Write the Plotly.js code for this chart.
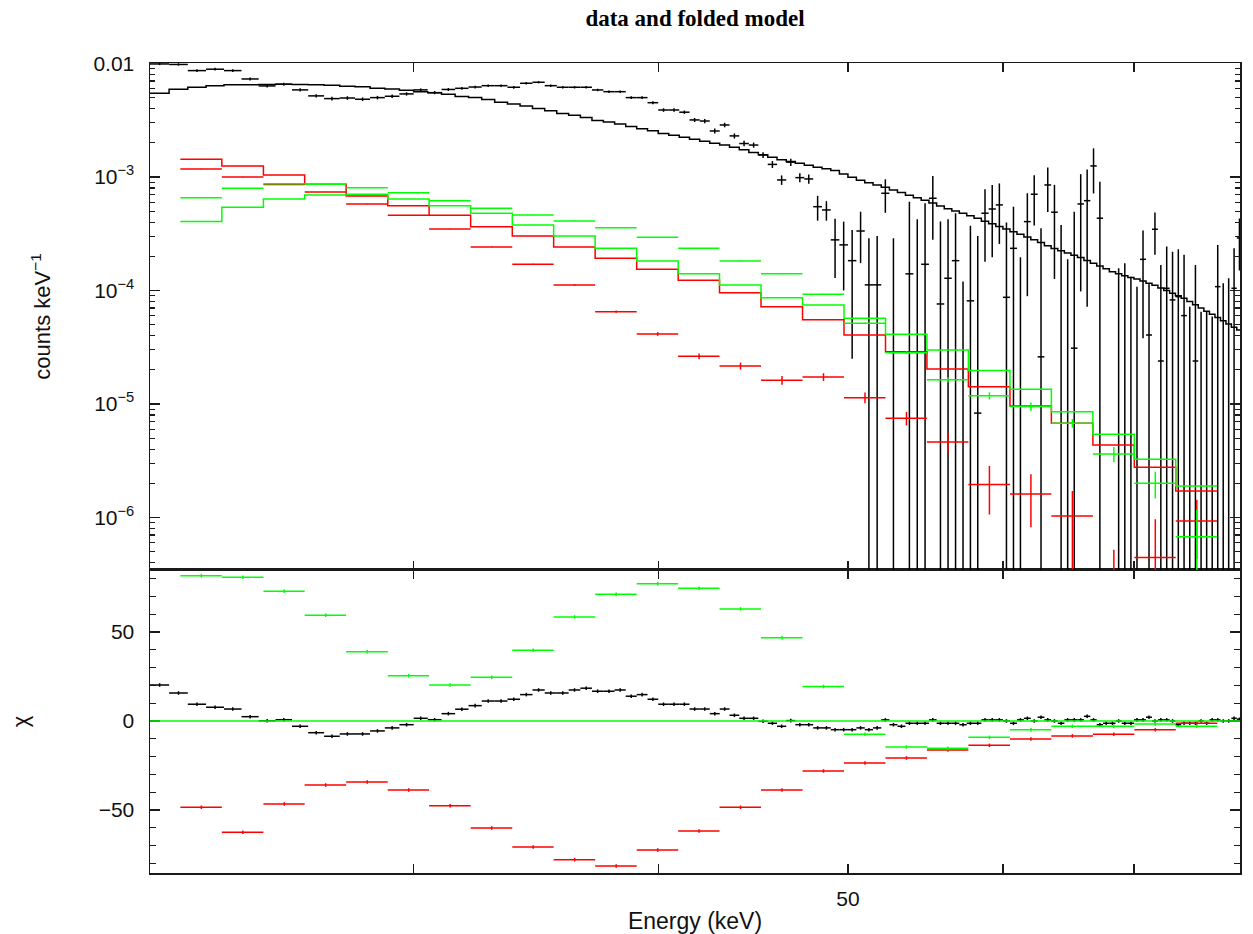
<!DOCTYPE html>
<html>
<head>
<meta charset="utf-8">
<script src="https://cdn.plot.ly/plotly-3.0.1.min.js"></script>
<style>html,body{margin:0;padding:0;background:#fff;}#chart{width:1253px;height:934px;}</style>
</head>
<body>
<div id="chart"></div>
<script>
// ---------- DATA ----------
// Black spectrum: 0.5 keV bins (centres, keV)
const blackE = [
22.25,22.75,23.25,23.75,24.25,24.75,25.25,25.75,26.25,26.75,27.25,27.75,
28.25,28.75,29.25,29.75,30.25,30.75,31.25,31.75,32.25,32.75,33.25,33.75,
34.25,34.75,35.25,35.75,36.25,36.75,37.25,37.75,38.25,38.75,39.25,39.75,
40.25,40.75,41.25,41.75,42.25,42.75,43.25,43.75,44.25,44.75,45.25,45.75,
46.25,46.75,47.25,47.75,48.25,48.75,49.25,49.75,50.25,50.75,51.25,51.75,
52.25,52.75,53.25,53.75,54.25,54.75,55.25,55.75,56.25,56.75,57.25,57.75,
58.25,58.75,59.25,59.75,60.25,60.75,61.25,61.75,62.25,62.75,63.25,63.75,
64.25,64.75,65.25,65.75,66.25,66.75,67.25,67.75,68.25,68.75,69.25,69.75,
70.25,70.75,71.25,71.75,72.25,72.75,73.25,73.75,74.25,74.75,75.25,75.75,
76.25,76.75,77.25,77.75,78.25,78.75,79.25];
const blackHalfWidth = 0.25;
const blackData = [
9.9e-3,9.8e-3,8.65e-3,8.9e-3,8.65e-3,7.3e-3,6.34e-3,6.56e-3,5.85e-3,5.18e-3,4.9e-3,4.96e-3,
4.84e-3,5.0e-3,5.14e-3,5.39e-3,5.85e-3,5.53e-3,5.9e-3,6.04e-3,6.2e-3,6.37e-3,6.37e-3,6.17e-3,
6.69e-3,6.83e-3,6.37e-3,6.17e-3,6.17e-3,6.17e-3,5.84e-3,5.64e-3,5.64e-3,5.0e-3,5.0e-3,4.51e-3,
3.89e-3,3.89e-3,3.72e-3,3.18e-3,3.11e-3,2.54e-3,2.87e-3,2.30e-3,1.97e-3,1.91e-3,1.56e-3,1.29e-3,
9.41e-4,1.35e-3,9.86e-4,9.6e-4,5.47e-4,5.12e-4,2.79e-4,2.52e-4,1.83e-4,3.34e-4,1.12e-4,1.12e-4,
7.18e-4,-0.6e-4,-4.0e-4,1.40e-4,-0.8e-4,1.70e-4,6.49e-4,7.6e-5,1.28e-4,1.83e-4,-1.5e-4,8.1e-5,
8.3e-6,4.79e-4,5.22e-4,5.67e-4,8.7e-5,2.35e-4,-1.2e-4,4.04e-4,7.04e-4,2.6e-5,8.5e-4,4.89e-4,
-0.4e-4,-1.8e-4,3.1e-5,5.78e-4,6.18e-4,1.25e-3,4.33e-4,-2e-4,-2e-4,-1e-5,-1e-5,-2e-5,
-3e-5,1.88e-4,4.05e-5,3.46e-4,2.39e-5,1.045e-4,8.25e-5,8.82e-5,6e-5,-7e-5,2.39e-5,-8e-5,
-8e-5,-8.5e-5,1.08e-4,-3e-5,-2e-5,1.045e-4,2.9e-4];
const blackErr = [
2.3e-4,2.4e-4,2.5e-4,2.5e-4,2.4e-4,2.2e-4,2.0e-4,2.0e-4,1.9e-4,1.8e-4,1.8e-4,1.8e-4,
1.8e-4,1.8e-4,1.8e-4,1.8e-4,1.8e-4,1.8e-4,1.8e-4,1.7e-4,1.7e-4,1.7e-4,1.7e-4,1.7e-4,
1.7e-4,1.6e-4,1.6e-4,1.6e-4,1.5e-4,1.5e-4,1.5e-4,1.5e-4,1.5e-4,1.4e-4,1.4e-4,1.4e-4,
1.4e-4,1.4e-4,1.3e-4,1.3e-4,1.3e-4,1.3e-4,1.3e-4,1.2e-4,1.1e-4,1.0e-4,0.9e-4,0.9e-4,
0.9e-4,1.0e-4,0.9e-4,0.9e-4,1.35e-4,1.0e-4,1.5e-4,1.52e-4,1.58e-4,1.6e-4,1.76e-4,1.9e-4,
2.35e-4,3.48e-4,3.5e-4,4.66e-4,5.04e-4,4.17e-4,3.7e-4,3.28e-4,2.96e-4,2.96e-4,2.7e-4,2.91e-4,
2.94e-4,3.0e-4,3.26e-4,3.1e-4,3.09e-4,3.12e-4,3.16e-4,3.15e-4,3.3e-4,3.27e-4,3.6e-4,3.63e-4,
4.18e-4,3.68e-4,4.63e-4,4.8e-4,5.46e-4,5.35e-4,4.76e-4,1.8e-4,1.8e-4,1.67e-4,1.84e-4,1.52e-4,
1.38e-4,1.5e-4,0.75e-4,1.4e-4,1.44e-4,1.39e-4,1.37e-4,1.43e-4,1.46e-4,1.42e-4,1.44e-4,1.45e-4,
1.45e-4,1.44e-4,1.44e-4,1.46e-4,1.48e-4,1.31e-4,1.4e-4];
const blackModel = [
5.46e-3,5.93e-3,6.17e-3,6.37e-3,6.50e-3,6.50e-3,6.53e-3,6.56e-3,6.53e-3,6.50e-3,6.44e-3,6.31e-3,
6.24e-3,6.06e-3,5.96e-3,5.81e-3,5.64e-3,5.53e-3,5.35e-3,5.12e-3,5.00e-3,4.82e-3,4.55e-3,4.40e-3,
4.22e-3,4.01e-3,3.84e-3,3.63e-3,3.50e-3,3.34e-3,3.15e-3,3.05e-3,2.93e-3,2.78e-3,2.66e-3,2.55e-3,
2.42e-3,2.33e-3,2.24e-3,2.15e-3,2.06e-3,1.98e-3,1.91e-3,1.83e-3,1.74e-3,1.64e-3,1.57e-3,1.49e-3,
1.42e-3,1.37e-3,1.32e-3,1.27e-3,1.22e-3,1.18e-3,1.14e-3,1.06e-3,9.92e-4,9.37e-4,8.89e-4,8.50e-4,
8.10e-4,7.68e-4,7.29e-4,6.91e-4,6.56e-4,6.22e-4,5.88e-4,5.55e-4,5.25e-4,5.02e-4,4.78e-4,4.54e-4,
4.33e-4,4.08e-4,3.87e-4,3.66e-4,3.47e-4,3.29e-4,3.12e-4,2.96e-4,2.80e-4,2.65e-4,2.48e-4,2.34e-4,
2.24e-4,2.14e-4,2.04e-4,1.95e-4,1.84e-4,1.74e-4,1.64e-4,1.55e-4,1.46e-4,1.40e-4,1.35e-4,1.30e-4,
1.26e-4,1.21e-4,1.16e-4,1.11e-4,1.05e-4,9.98e-5,9.47e-5,9.00e-5,8.54e-5,7.99e-5,7.48e-5,7.00e-5,
6.56e-5,6.16e-5,5.77e-5,5.40e-5,5.05e-5,4.74e-5,4.49e-5];
const blackChi = [
20.2,15.7,9.4,7.7,6.7,2.4,0.1,0.7,-3.0,-6.6,-8.6,-7.3,
-7.3,-5.6,-3.9,-2.1,1.5,0.7,4.1,6.6,8.6,11.2,11.2,12.2,
14.8,17.4,15.7,15.7,17.4,18.4,16.7,16.7,17.4,13.9,14.8,12.2,
9.4,9.4,9.4,6.7,6.7,4.1,6.7,3.2,1.5,1.5,-0.2,-1.3,
-3.0,0.2,-2.1,-2.1,-3.9,-3.9,-4.9,-4.9,-4.9,-3.9,-4.9,-3.9,
0.6,-2.1,-3.0,-1.3,-1.3,-1.3,0.6,-1.3,-1.3,-1.3,-2.1,-1.3,
-1.3,0.6,0.6,0.6,0,-1.3,0.6,1.5,0,2.1,0.6,0,
-1.3,0.6,0.6,0.6,2.6,0.6,-2.1,-1.3,-1.3,0,-1.3,-1.3,
0.6,0.6,2.1,0,0.6,0.6,0,-2.1,-1.3,-1.3,-1.3,0,
-1.3,0.6,0.6,0,0,1.5,1.0];
const chiErr = 1;

// Red and green spectra: 25 logarithmic bins (edges, keV)
const rgEdges = [22.80,23.94,25.14,26.39,27.71,29.10,30.55,32.08,33.69,35.37,37.14,39.00,40.95,
42.99,45.14,47.40,49.77,52.26,54.87,57.61,60.50,63.52,66.70,70.03,73.53,77.21];
const redData = [1.176e-3,1.0e-3,8.59e-4,7.38e-4,5.78e-4,4.60e-4,3.48e-4,2.42e-4,1.70e-4,1.118e-4,
6.50e-5,4.14e-5,2.63e-5,2.16e-5,1.62e-5,1.73e-5,1.136e-5,7.48e-6,4.63e-6,1.95e-6,1.61e-6,1.03e-6,
-1.0e-7,4.43e-7,9.31e-7];
const redErr = [5.3e-6,4.0e-6,3.9e-6,3.4e-6,3.0e-6,2.5e-6,2.35e-6,2.05e-6,1.86e-6,1.67e-6,1.56e-6,
1.55e-6,1.56e-6,1.53e-6,1.44e-6,1.35e-6,1.23e-6,1.03e-6,0.96e-6,0.89e-6,0.79e-6,0.68e-6,0.62e-6,
0.52e-6,0.5e-6];
const redModel = [1.432e-3,1.250e-3,1.041e-3,8.62e-4,6.80e-4,5.58e-4,4.60e-4,3.65e-4,3.02e-4,2.42e-4,
1.92e-4,1.54e-4,1.23e-4,9.56e-5,7.20e-5,5.53e-5,4.05e-5,2.89e-5,2.03e-5,1.42e-5,9.60e-6,6.76e-6,
4.35e-6,2.77e-6,1.71e-6];
const redChi = [-48.5,-62.5,-46.6,-36.0,-34.3,-38.8,-47.6,-60.1,-70.8,-77.9,-81.5,-72.5,-61.8,
-48.5,-38.8,-28.1,-23.6,-20.8,-16.3,-13.7,-10.1,-8.4,-7.5,-4.9,-1.3];
const greenData = [6.57e-4,7.95e-4,8.73e-4,8.62e-4,8.05e-4,7.27e-4,6.18e-4,5.30e-4,4.63e-4,4.10e-4,
3.57e-4,2.94e-4,2.35e-4,1.82e-4,1.40e-4,9.26e-5,5.14e-5,2.83e-5,1.63e-5,1.18e-5,9.47e-6,6.76e-6,
3.63e-6,2.00e-6,6.77e-7];
const greenErr = [3.1e-6,3.15e-6,3.2e-6,2.8e-6,2.6e-6,3.4e-6,3.0e-6,2.1e-6,2.1e-6,1.85e-6,1.7e-6,
1.45e-6,1.28e-6,1.12e-6,1.15e-6,0.94e-6,0.73e-6,0.88e-6,0.88e-6,0.86e-6,0.82e-6,0.6e-6,0.55e-6,
0.53e-6,0.49e-6];
const greenModel = [4.04e-4,5.41e-4,6.40e-4,6.94e-4,7.04e-4,6.40e-4,5.58e-4,4.79e-4,3.78e-4,3.02e-4,
2.35e-4,1.82e-4,1.40e-4,1.118e-4,8.64e-5,7.45e-5,5.69e-5,4.11e-5,2.99e-5,1.97e-5,1.35e-5,8.55e-6,
5.42e-6,3.26e-6,1.89e-6];
const greenChi = [81.6,80.7,72.9,59.4,38.9,25.4,20.2,24.5,39.7,58.4,71.2,77.1,74.5,62.9,46.8,19.3,
-7.5,-14.6,-15.4,-9.2,-4.9,-3.0,-3.0,-1.7,-3.0];

// Axis ticks
const xTickVals = [50];
const xTickText = ['50'];
const xMinorTicks = [30,40,60,70];
const yTopTickVals = [1e-6,1e-5,1e-4,1e-3,1e-2];
const yTopTickText = ['10<sup>−6</sup>','10<sup>−5</sup>','10<sup>−4</sup>','10<sup>−3</sup>','0.01'];
const yTopMinor = [4e-7,5e-7,6e-7,7e-7,8e-7,9e-7,
 2e-6,3e-6,4e-6,5e-6,6e-6,7e-6,8e-6,9e-6,
 2e-5,3e-5,4e-5,5e-5,6e-5,7e-5,8e-5,9e-5,
 2e-4,3e-4,4e-4,5e-4,6e-4,7e-4,8e-4,9e-4,
 2e-3,3e-3,4e-3,5e-3,6e-3,7e-3,8e-3,9e-3];
const yChiTickVals = [-50,0,50];
const yChiTickText = ['−50','0','50'];
const yChiMinor = [-80,-70,-60,-40,-30,-20,-10,10,20,30,40,60,70,80];

// ---------- BUILD TRACES ----------
function crosses(xc, xlo, xhi, y, err, logY) {
  const X = [], Y = [];
  for (let i = 0; i < xc.length; i++) {
    const e = Array.isArray(err) ? err[i] : err;
    if (!logY || y[i] > 0) { X.push(xlo[i], xhi[i], null); Y.push(y[i], y[i], null); }
    let lo = y[i] - e, hi = y[i] + e;
    if (logY) { if (hi <= 0) continue; if (lo <= 0) lo = 1e-12; }
    X.push(xc[i], xc[i], null); Y.push(lo, hi, null);
  }
  return {X, Y};
}
function steps(edges, vals) {
  return {X: edges.slice(), Y: vals.concat([vals[vals.length - 1]])};
}
const bLo = blackE.map(e => e - blackHalfWidth);
const bHi = blackE.map(e => e + blackHalfWidth);
const bEdges = bLo.concat([bHi[bHi.length - 1]]);
const rgLo = rgEdges.slice(0, -1);
const rgHi = rgEdges.slice(1);
const rgC = rgLo.map((l, i) => (l + rgHi[i]) / 2);

const BLACK = '#000000', RED = '#ff0000', GREEN = '#00ff00';
const LW = 1.5;
function seg(c, color, xa, ya) {
  return {x: c.X, y: c.Y, mode: 'lines', xaxis: xa, yaxis: ya, line: {color, width: LW},
          hoverinfo: 'skip', connectgaps: false, showlegend: false};
}
function stepTrace(s, color, xa, ya) {
  return {x: s.X, y: s.Y, mode: 'lines', xaxis: xa, yaxis: ya, line: {color, width: LW, shape: 'hv'},
          hoverinfo: 'skip', showlegend: false};
}

const traces = [
  seg(crosses(blackE, bLo, bHi, blackData, blackErr, true), BLACK, 'x2', 'y2'),
  stepTrace(steps(bEdges, blackModel), BLACK, 'x2', 'y2'),
  seg(crosses(rgC, rgLo, rgHi, redData, redErr, true), RED, 'x2', 'y2'),
  stepTrace(steps(rgEdges, redModel), RED, 'x2', 'y2'),
  seg(crosses(rgC, rgLo, rgHi, greenData, greenErr, true), GREEN, 'x2', 'y2'),
  stepTrace(steps(rgEdges, greenModel), GREEN, 'x2', 'y2'),
  seg(crosses(blackE, bLo, bHi, blackChi, chiErr, false), BLACK, 'x', 'y'),
  seg(crosses(rgC, rgLo, rgHi, redChi, chiErr, false), RED, 'x', 'y'),
  seg(crosses(rgC, rgLo, rgHi, greenChi, chiErr, false), GREEN, 'x', 'y')
];

const FONT = 'Liberation Sans, Arial, sans-serif';
const axisCommon = {
  showgrid: false, zeroline: false, showline: true, linecolor: '#1a1a1a', linewidth: 1.5,
  ticks: 'inside', tickcolor: '#1a1a1a', tickwidth: 1.3, mirror: 'allticks',
  tickfont: {family: FONT, size: 21, color: '#111'}
};
const split = 0.3741;
const xRange = [Math.log10(22.0), Math.log10(79.3)];
const layout = {
  width: 1253, height: 934,
  margin: {l: 150, r: 13, t: 63, b: 61},
  paper_bgcolor: '#ffffff', plot_bgcolor: '#ffffff',
  showlegend: false,
  title: {text: '<b>data and folded model</b>', font: {family: 'Liberation Serif, Times New Roman, serif', size: 23, color: '#000'},
          x: 0.5, xref: 'paper', xanchor: 'center', y: 0.981, yref: 'container', yanchor: 'middle'},
  xaxis: Object.assign({}, axisCommon, {
    type: 'log', range: xRange, anchor: 'y', domain: [0, 1],
    tickmode: 'array', tickvals: xTickVals, ticktext: xTickText, ticklen: 9, ticklabelstandoff: 6,
    minor: {tickmode: 'array', tickvals: xMinorTicks, ticks: 'inside', ticklen: 9, tickcolor: '#1a1a1a', tickwidth: 1.3, showgrid: false},
    title: {text: 'Energy (keV)', font: {family: FONT, size: 23, color: '#111'}, standoff: 4}
  }),
  xaxis2: Object.assign({}, axisCommon, {
    type: 'log', range: xRange, anchor: 'y2', domain: [0, 1], matches: 'x',
    tickmode: 'array', tickvals: xTickVals, ticklen: 9, showticklabels: false,
    minor: {tickmode: 'array', tickvals: xMinorTicks, ticks: 'inside', ticklen: 9, tickcolor: '#1a1a1a', tickwidth: 1.3, showgrid: false}
  }),
  yaxis: Object.assign({}, axisCommon, {
    domain: [0, split], anchor: 'x', range: [-85.4, 84.8],
    tickmode: 'array', tickvals: yChiTickVals, ticktext: yChiTickText, ticklen: 10, ticklabelstandoff: 10,
    minor: {tickmode: 'array', tickvals: yChiMinor, ticks: 'inside', ticklen: 6, tickcolor: '#1a1a1a', tickwidth: 1.2, showgrid: false},
    title: {text: 'χ', font: {family: FONT, size: 22, color: '#111'}, standoff: 64}
  }),
  yaxis2: Object.assign({}, axisCommon, {
    type: 'log', domain: [split, 1], anchor: 'x2', range: [-6.463, -1.996],
    tickmode: 'array', tickvals: yTopTickVals, ticktext: yTopTickText, ticklen: 10, ticklabelstandoff: 10,
    minor: {tickmode: 'array', tickvals: yTopMinor, ticks: 'inside', ticklen: 5, tickcolor: '#1a1a1a', tickwidth: 1.2, showgrid: false},
    title: {text: 'counts keV<sup>−1</sup>', font: {family: FONT, size: 22, color: '#111'}, standoff: 36}
  }),
  shapes: [{type: 'line', xref: 'x domain', x0: 0, x1: 1, yref: 'y', y0: 0, y1: 0,
            line: {color: GREEN, width: 1.5}, layer: 'above'}]
};

Plotly.newPlot('chart', traces, layout, {staticPlot: true, displayModeBar: false});
</script>
</body>
</html>
